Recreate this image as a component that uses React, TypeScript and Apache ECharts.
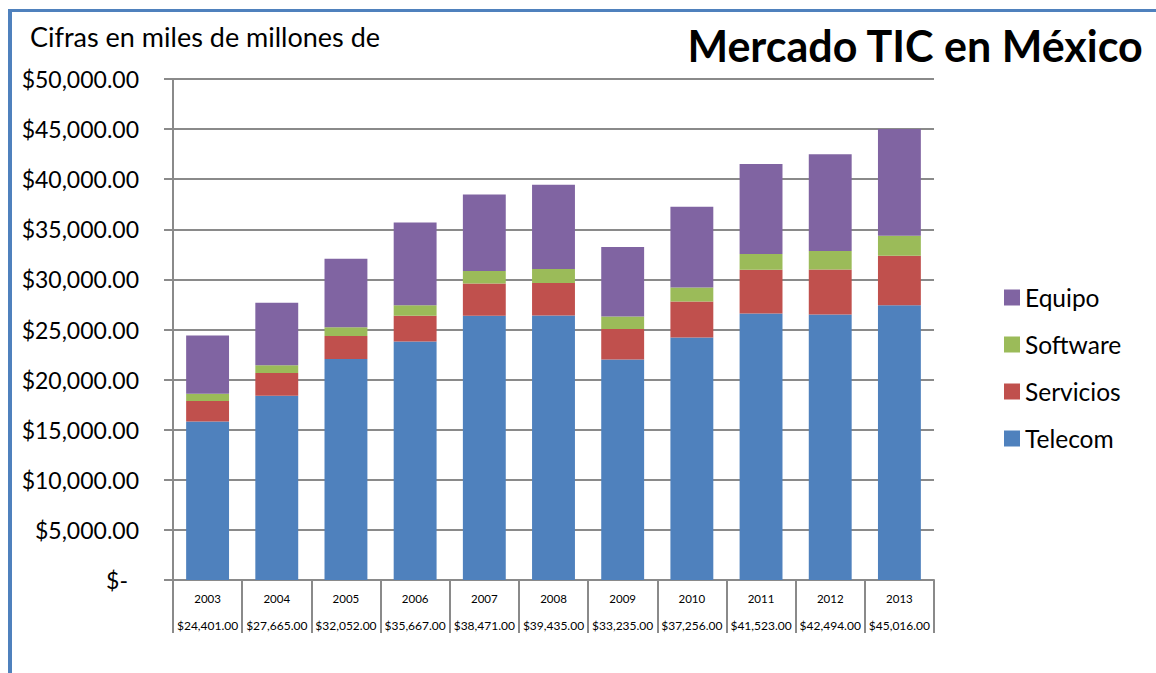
import React, { useEffect, useRef } from "react";
import * as echarts from "echarts";

const years = ["2003", "2004", "2005", "2006", "2007", "2008", "2009", "2010", "2011", "2012", "2013"];
const telecom = [15830, 18400, 22060, 23800, 26360, 26400, 22000, 24200, 26600, 26500, 27430];
const servicios = [2030, 2260, 2300, 2560, 3240, 3230, 3060, 3600, 4360, 4500, 4930];
const software = [740, 770, 870, 1070, 1230, 1400, 1240, 1400, 1570, 1830, 2000];
const equipo = [5801, 6235, 6822, 8237, 7641, 8405, 6935, 8056, 8993, 9664, 10656];
const legendOrder = ["Equipo", "Software", "Servicios", "Telecom"];
const yTicks = { min: 0, max: 50000, interval: 5000 };

const FONT = 'Lato, "Open Sans", sans-serif';

function money(v: number): string {
  const fixed = v.toFixed(2);
  const [intPart, dec] = fixed.split(".");
  const withCommas = intPart.replace(/\B(?=(\d{3})+(?!\d))/g, ",");
  return "$" + withCommas + "." + dec;
}

export default function App() {
  const ref = useRef<HTMLDivElement>(null);

  useEffect(() => {
    if (!ref.current) return;
    const chart = echarts.init(ref.current, null, { renderer: "svg" });
    const totals = years.map((_, i) => telecom[i] + servicios[i] + software[i] + equipo[i]);
    const grey = "#8a8a8a";
    const option = {
      animation: false,
      backgroundColor: "#ffffff",
      textStyle: { fontFamily: FONT },
      title: {
        text: "Mercado TIC en México",
        right: 7,
        top: 19,
        textStyle: { fontFamily: FONT, fontSize: 43, fontWeight: "bold", color: "#000" },
      },
      graphic: [
        {
          type: "line",
          shape: { x1: 8, y1: 10.5, x2: 1156, y2: 10.5 },
          style: { stroke: "#4f81bd", lineWidth: 3 },
        },
        {
          type: "line",
          shape: { x1: 10, y1: 9, x2: 10, y2: 673 },
          style: { stroke: "#4f81bd", lineWidth: 4 },
        },
        {
          type: "text",
          left: 30,
          top: 23,
          style: { text: "Cifras en miles de millones de", fontFamily: FONT, fontSize: 27, fill: "#000" },
        },
      ],
      legend: {
        orient: "vertical",
        left: 999,
        top: 280,
        itemWidth: 16,
        itemHeight: 16,
        itemGap: 22,
        icon: "rect",
        data: legendOrder,
        textStyle: { fontFamily: FONT, fontSize: 24.5, color: "#000", lineHeight: 24 },
      },
      grid: { left: 173, right: 222, top: 79, bottom: 93 },
      xAxis: {
        type: "category",
        data: years,
        axisLine: { show: true, lineStyle: { color: grey, width: 2 } },
        axisTick: { show: true, interval: 0, length: 53, lineStyle: { color: grey, width: 2 } },
        axisLabel: {
          interval: 0,
          margin: 5,
          formatter: (val: string, idx: number) => `{y|${val}}\n{t|${money(totals[idx])}}`,
          rich: {
            y: { fontFamily: FONT, fontSize: 11.5, color: "#000", lineHeight: 27 },
            t: { fontFamily: FONT, fontSize: 12, color: "#000", lineHeight: 27 },
          },
        },
      },
      yAxis: {
        type: "value",
        min: yTicks.min,
        max: yTicks.max,
        interval: yTicks.interval,
        axisLine: { show: true, lineStyle: { color: grey, width: 2 } },
        axisTick: { show: true, length: 9, lineStyle: { color: grey, width: 2 } },
        splitLine: { show: true, lineStyle: { color: grey, width: 2 } },
        axisLabel: {
          margin: 34,
          fontFamily: FONT,
          fontSize: 23,
          color: "#000",
          formatter: (v: number) => (v === 0 ? "{z|$-}" : money(v)),
          rich: { z: { fontFamily: FONT, fontSize: 23, color: "#000", padding: [0, 11, 0, 0] } },
        },
      },
      series: [
        { name: "Telecom", type: "bar", stack: "total", data: telecom, barCategoryGap: "38%", itemStyle: { color: "#4f81bd" } },
        { name: "Servicios", type: "bar", stack: "total", data: servicios, itemStyle: { color: "#c0504d" } },
        { name: "Software", type: "bar", stack: "total", data: software, itemStyle: { color: "#9bbb59" } },
        { name: "Equipo", type: "bar", stack: "total", data: equipo, itemStyle: { color: "#8064a2" } },
      ],
    };
    chart.setOption(option as any);
    return () => chart.dispose();
  }, []);

  return (
    <div
      ref={ref}
      style={{ position: "absolute", left: 0, top: 0, width: 1156, height: 673 }}
    />
  );
}
